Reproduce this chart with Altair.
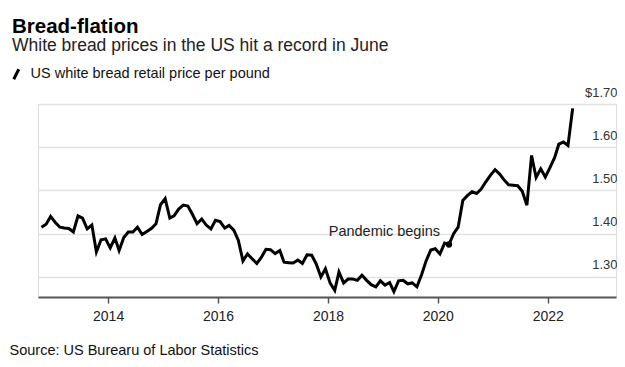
import altair as alt
import pandas as pd

# Monthly US white bread retail price per pound, Oct 2012 .. Jun 2022
start_month = "2012-10-01"
prices = [
    1.415, 1.422, 1.440, 1.426, 1.415, 1.413, 1.412, 1.404, 1.441, 1.436,
    1.411, 1.420, 1.358, 1.386, 1.388, 1.367, 1.390, 1.361, 1.391, 1.404,
    1.404, 1.415, 1.398, 1.405, 1.412, 1.423, 1.467, 1.481, 1.436, 1.441,
    1.457, 1.466, 1.464, 1.445, 1.423, 1.434, 1.420, 1.411, 1.431, 1.428,
    1.413, 1.419, 1.408, 1.385, 1.337, 1.353, 1.342, 1.331, 1.345, 1.364,
    1.363, 1.354, 1.361, 1.334, 1.333, 1.332, 1.339, 1.331, 1.351, 1.350,
    1.330, 1.300, 1.319, 1.286, 1.269, 1.311, 1.286, 1.295, 1.295, 1.292,
    1.304, 1.292, 1.282, 1.277, 1.291, 1.281, 1.287, 1.266, 1.291, 1.292,
    1.284, 1.286, 1.277, 1.305, 1.337, 1.362, 1.365, 1.353, 1.378, 1.375,
    1.400, 1.415, 1.477, 1.488, 1.497, 1.493, 1.503, 1.520, 1.535, 1.548,
    1.538, 1.525, 1.513, 1.512, 1.511, 1.498, 1.466, 1.581, 1.530, 1.550,
    1.531, 1.553, 1.576, 1.607, 1.612, 1.604, 1.690,
]
series_name = "US white bread retail price per pound"
annotation_date = "2020-03-15"
annotation_value = 1.375
annotation_text = "Pandemic begins"
y_ticks = [1.3, 1.4, 1.5, 1.6, 1.7]
x_tick_years = [2014, 2016, 2018, 2020, 2022]

dates = pd.date_range(start_month, periods=len(prices), freq="MS") + pd.Timedelta(days=14)
df = pd.DataFrame({"date": dates, "price": prices, "series": series_name})
ann = pd.DataFrame({"date": [pd.Timestamp(annotation_date)], "price": [annotation_value],
                    "label": [annotation_text]})

FONT = "Liberation Sans"

x_scale = alt.Scale(domain=[alt.DateTime(year=2012, month=9, date=22),
                            alt.DateTime(year=2023, month=3, date=30)])
y_scale = alt.Scale(domain=[1.2535, 1.70], nice=False, zero=False)

x_enc = alt.X("date:T", scale=x_scale, axis=alt.Axis(
    values=[alt.DateTime(year=y, month=1, date=1) for y in x_tick_years],
    format="%Y", grid=False, domainColor="#555555", domainWidth=2,
    tickColor="#555555", tickSize=6, tickWidth=1.5, labelFontSize=14,
    labelColor="#222222", labelPadding=6, labelFont=FONT, labelFlush=False,
    title="Source: US Burearu of Labor Statistics", titleAnchor="start",
    titleAlign="left", titleBaseline="alphabetic", titleX=-29, titleY=57,
    titleFontSize=14.5, titleFontWeight="normal", titleColor="#111111", titleFont=FONT))

y_enc = alt.Y("price:Q", scale=y_scale, axis=alt.Axis(
    orient="right", values=y_ticks, grid=True, gridColor="#e2e2e2", gridWidth=1.5,
    domain=False, ticks=False, labelAlign="right", labelBaseline="bottom",
    labelPadding=1, labelOffset=-5, labelFontSize=13, labelColor="#333333",
    labelFont=FONT,
    labelExpr="datum.value == 1.7 ? '$1.70' : format(datum.value, '.2f')",
    title=None))

line = alt.Chart(df).mark_line(strokeWidth=3, strokeJoin="miter").encode(
    x=x_enc, y=y_enc,
    color=alt.Color("series:N", scale=alt.Scale(range=["#000000"]), legend=alt.Legend(
        orient="none", legendX=-29, legendY=-37, title=None, padding=0,
        symbolType="M-0.5,1L0.5,-1", symbolSize=100, symbolStrokeWidth=3,
        symbolStrokeColor="#000000", labelFontSize=14.5, labelColor="#111111",
        labelFont=FONT, labelOffset=7, labelLimit=0)),
)

dot = alt.Chart(ann).mark_point(filled=True, size=40, color="#000000", opacity=1).encode(
    x="date:T", y="price:Q")

label = alt.Chart(ann).mark_text(align="right", baseline="alphabetic", dx=-9, dy=-8,
                                 fontSize=14.5, font=FONT, color="#222222").encode(
    x="date:T", y="price:Q", text="label:N")

chart = alt.layer(line, dot, label).properties(
    width=578, height=193,
    padding={"left": 30, "top": 96, "right": 1, "bottom": 60},
    autosize=alt.AutoSizeParams(type="none"),
    title=alt.TitleParams(
        text="Bread-flation", subtitle="White bread prices in the US hit a record in June",
        anchor="start", frame="group", dx=-26, dy=-2.5, fontSize=20.5, fontWeight="bold",
        font=FONT, color="#000000", subtitleFont=FONT, subtitleFontSize=17.5,
        subtitleColor="#222222", subtitlePadding=-0.5, offset=10),
).configure_view(stroke=None).configure(background="white")

chart.save("out.html", embed_options={"renderer": "svg", "actions": False})
